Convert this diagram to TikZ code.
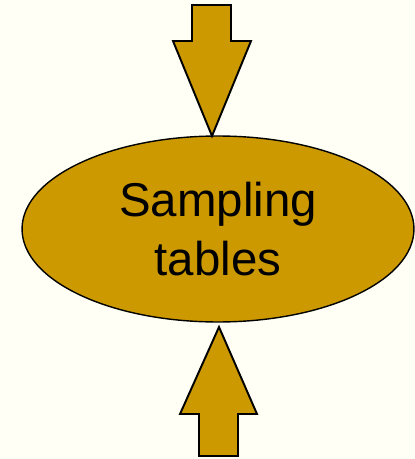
\documentclass[tikz,border=0pt]{standalone}
\usepackage{fontspec}
\setmainfont{Liberation Sans}
\usepackage{xcolor}
\usetikzlibrary{shapes}
\definecolor{paper}{HTML}{FFFFF5}
\definecolor{gold}{HTML}{CC9900}
\tikzset{blob/.style={ellipse,draw,fill=gold,line width=0.8pt,
   minimum width=7.84cm,minimum height=3.72cm,align=center,
   font=\fontsize{27}{33.5}\selectfont},
 blockarrow/.style={draw,fill=gold,line width=1.1pt,line join=miter},
 }

\begin{document}
\begin{tikzpicture}[x=0.02cm,y=-0.02cm]
        \fill[paper] (0,0) rectangle (415,459);
        \useasboundingbox (0,0) rectangle (415,459);
        \node[blob] (tables) at (218,229) {Sampling\\tables};

        \coordinate (intip) at (212,136);
        \draw[blockarrow] (intip) -- (173,41) -- (192,41) -- (192,5)
            -- (231,5) -- (231,41) -- (251,41) -- cycle;

        \coordinate (outtip) at (219,327);
        \draw[blockarrow] (outtip) -- (257,414) -- (238,414) -- (238,456)
            -- (199,456) -- (199,414) -- (180,414) -- cycle;
    \end{tikzpicture}
\end{document}
